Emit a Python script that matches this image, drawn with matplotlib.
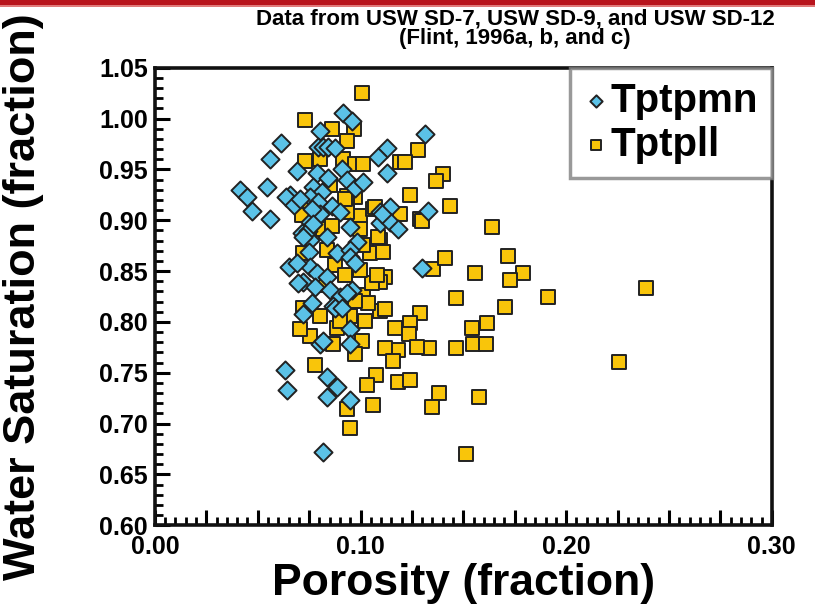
import matplotlib
matplotlib.use("Agg")
import matplotlib.pyplot as plt
from matplotlib.ticker import MultipleLocator, FuncFormatter
from matplotlib.patches import Rectangle

# ---------------- data ----------------
tptpmn_porosity = [
    0.0916, 0.0960, 0.0804, 0.0614, 0.0560, 0.0794, 0.0818, 0.0843, 0.0877, 0.1130,
    0.1086, 0.1130, 0.0692, 0.0789, 0.0843, 0.0911, 0.0935, 0.0974, 0.1013, 0.0414,
    0.0448, 0.0472, 0.0546, 0.0560, 0.0658, 0.0638, 0.0677, 0.0770, 0.0813, 0.0755,
    0.0862, 0.0794, 0.0901, 0.0804, 0.1096, 0.1145, 0.1096, 0.1145, 0.1184, 0.0755,
    0.0716, 0.0755, 0.0838, 0.0950, 0.0984, 0.0887, 0.0950, 0.0750, 0.0950, 0.1315,
    0.1330, 0.1301, 0.0706, 0.0765, 0.0974, 0.0755, 0.0789, 0.0838, 0.0721, 0.0779,
    0.0852, 0.0960, 0.0901, 0.0765, 0.0867, 0.0721, 0.0653, 0.0692, 0.0697, 0.0877,
    0.0911, 0.0935, 0.0804, 0.0818, 0.0950, 0.0950, 0.0633, 0.0643, 0.0838, 0.0887,
    0.0838, 0.0950, 0.0818, 0.0745, 0.0770, 0.0721, 0.1106,
]
tptpmn_saturation = [
    1.005, 0.998, 0.988, 0.976, 0.960, 0.972, 0.972, 0.972, 0.971, 0.971,
    0.962, 0.946, 0.948, 0.946, 0.942, 0.950, 0.940, 0.932, 0.938, 0.930,
    0.923, 0.909, 0.933, 0.901, 0.925, 0.923, 0.915, 0.933, 0.928, 0.923,
    0.914, 0.918, 0.908, 0.906, 0.908, 0.913, 0.897, 0.898, 0.891, 0.898,
    0.887, 0.881, 0.883, 0.893, 0.879, 0.868, 0.871, 0.869, 0.864, 0.985,
    0.909, 0.853, 0.921, 0.911, 0.858, 0.854, 0.848, 0.844, 0.839, 0.834,
    0.831, 0.831, 0.824, 0.819, 0.816, 0.808, 0.854, 0.858, 0.838, 0.814,
    0.814, 0.828, 0.778, 0.781, 0.793, 0.778, 0.753, 0.733, 0.746, 0.736,
    0.726, 0.723, 0.672, 0.889, 0.896, 0.883, 0.906,
]

tptpll_porosity = [
    0.1008, 0.0731, 0.0862, 0.0969, 0.0935, 0.0731, 0.0804, 0.0916, 0.0974, 0.1013,
    0.1193, 0.0716, 0.0716, 0.0974, 0.0935, 0.0999, 0.0935, 0.1062, 0.1096, 0.0818,
    0.0862, 0.0721, 0.0838, 0.1047, 0.1013, 0.1281, 0.1218, 0.1403, 0.1369, 0.1242,
    0.1437, 0.1291, 0.1072, 0.1193, 0.1641, 0.1354, 0.1413, 0.1719, 0.1788, 0.1729,
    0.1559, 0.1120, 0.1096, 0.2387, 0.1466, 0.1914, 0.1705, 0.1291, 0.1242, 0.1169,
    0.1237, 0.1096, 0.1120, 0.1544, 0.1617, 0.1549, 0.1612, 0.1466, 0.1335, 0.1276,
    0.1184, 0.1120, 0.1159, 0.2255, 0.1184, 0.1242, 0.1383, 0.1349, 0.1578, 0.1515,
    0.1301, 0.1086, 0.1013, 0.0950, 0.0887, 0.0755, 0.0706, 0.1008, 0.0974, 0.0867,
    0.0779, 0.1076, 0.1033, 0.0721, 0.0935, 0.0950, 0.1062, 0.1057, 0.1081, 0.1037,
    0.1111, 0.0852, 0.0925, 0.0999, 0.0877, 0.0925, 0.0828, 0.0999, 0.0901, 0.1023,
    0.0804, 0.0974,
]
tptpll_saturation = [
    1.025, 0.999, 0.990, 0.990, 0.978, 0.958, 0.960, 0.960, 0.955, 0.955,
    0.957, 0.914, 0.905, 0.923, 0.924, 0.904, 0.908, 0.911, 0.881, 0.891,
    0.894, 0.868, 0.871, 0.868, 0.876, 0.969, 0.957, 0.945, 0.939, 0.925,
    0.914, 0.901, 0.913, 0.906, 0.893, 0.852, 0.863, 0.865, 0.848, 0.841,
    0.848, 0.844, 0.839, 0.833, 0.823, 0.824, 0.815, 0.809, 0.799, 0.794,
    0.788, 0.811, 0.813, 0.794, 0.799, 0.778, 0.778, 0.774, 0.774, 0.775,
    0.772, 0.774, 0.762, 0.761, 0.741, 0.743, 0.730, 0.716, 0.726, 0.670,
    0.899, 0.883, 0.826, 0.806, 0.794, 0.786, 0.793, 0.781, 0.768, 0.778,
    0.758, 0.748, 0.738, 0.814, 0.714, 0.696, 0.718, 0.838, 0.846, 0.819,
    0.869, 0.935, 0.921, 0.891, 0.856, 0.846, 0.836, 0.851, 0.801, 0.801,
    0.806, 0.821,
]

series_names = ["Tptpmn", "Tptpll"]
x_ticks = [0.00, 0.10, 0.20, 0.30]
y_ticks = [0.60, 0.65, 0.70, 0.75, 0.80, 0.85, 0.90, 0.95, 1.00, 1.05]
title_lines = ["Data from USW SD-7, USW SD-9, and USW SD-12", "(Flint, 1996a, b, and c)"]
x_label = "Porosity (fraction)"
y_label = "Water Saturation (fraction)"

# ---------------- style ----------------
NARROW = ["Liberation Sans Narrow", "DejaVu Sans Condensed", "Liberation Sans", "DejaVu Sans"]
WIDE = ["Liberation Sans", "DejaVu Sans"]
BLUE = "#5BC2E7"
GOLD = "#F9C50A"
EDGE = "#222222"

plt.rcParams["font.family"] = WIDE

fig = plt.figure(figsize=(8.15, 6.10), dpi=100)
ax = fig.add_axes([0.190, 0.139, 0.757, 0.750])

ax.scatter(tptpll_porosity, tptpll_saturation, marker="s", s=100, facecolor=GOLD,
           edgecolor=EDGE, linewidth=1.4, zorder=3, label=series_names[1])
ax.scatter(tptpmn_porosity, tptpmn_saturation, marker="D", s=85, facecolor=BLUE,
           edgecolor=EDGE, linewidth=1.4, zorder=4, label=series_names[0])

ax.set_xlim(0.0, 0.30)
ax.set_ylim(0.60, 1.05)

ax.xaxis.set_major_locator(MultipleLocator(0.025))
ax.xaxis.set_minor_locator(MultipleLocator(0.005))
ax.yaxis.set_major_locator(MultipleLocator(0.05))
ax.yaxis.set_minor_locator(MultipleLocator(0.01))


def xfmt(v, pos):
    for t in x_ticks:
        if abs(v - t) < 1e-6:
            return f"{t:.2f}"
    return ""


ax.xaxis.set_major_formatter(FuncFormatter(xfmt))
ax.yaxis.set_major_formatter(FuncFormatter(lambda v, p: f"{v:.2f}"))

ax.tick_params(which="major", direction="in", length=11, width=2.2, top=False, right=False,
               labelsize=18)
ax.tick_params(axis="y", which="major", pad=5)
ax.tick_params(axis="x", which="major", pad=7)
ax.tick_params(which="minor", direction="in", length=5.5, width=2.0, top=False, right=False)
for lab in ax.get_xticklabels() + ax.get_yticklabels():
    lab.set_family(NARROW)
    lab.set_fontweight("bold")

for sp in ax.spines.values():
    sp.set_linewidth(2.6)
    sp.set_color("#111111")

ax.set_xlabel(x_label, fontsize=32, fontweight="bold", labelpad=3)
ax.set_ylabel(y_label, fontsize=32.5, fontweight="bold")
ax.yaxis.set_label_coords(-0.180, 0.50)

# legend: diamonds first
handles, labels = ax.get_legend_handles_labels()
order = [1, 0]
leg = ax.legend([handles[i] for i in order], [labels[i] for i in order],
                loc="upper right", borderaxespad=0.0, frameon=True, fancybox=False,
                prop={"family": WIDE, "weight": "bold", "size": 29},
                markerscale=0.68, handletextpad=0.05, handlelength=0.6,
                labelspacing=0.15, borderpad=0.35)
leg.get_frame().set_edgecolor("#808080")
leg.get_frame().set_linewidth(2.5)
leg.set_zorder(10)

# title text
fig.text(0.632, 1 - 25 / 610, title_lines[0], ha="center", va="baseline", fontsize=16,
         fontweight="bold", family=NARROW)
fig.text(0.632, 1 - 44 / 610, title_lines[1], ha="center", va="baseline", fontsize=16,
         fontweight="bold", family=NARROW)

# red banner line at the top
fig.patches.append(Rectangle((0, 1 - 5 / 610), 1, 5 / 610, transform=fig.transFigure,
                             facecolor="#B8141C", edgecolor="none", zorder=5))
fig.patches.append(Rectangle((0, 1 - 7 / 610), 1, 2 / 610, transform=fig.transFigure,
                             facecolor="#E07A7A", edgecolor="none", zorder=5))

fig.savefig("out.png", dpi=100)
